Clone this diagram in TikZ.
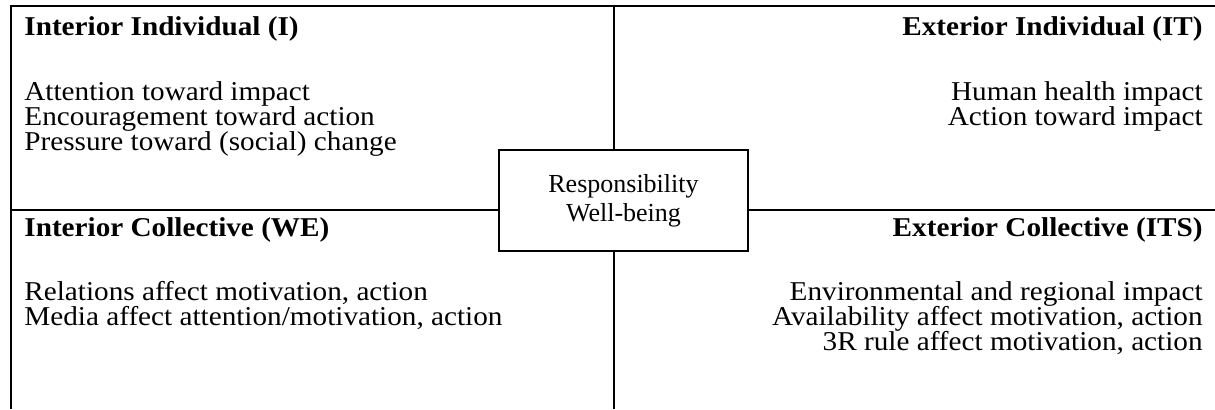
\documentclass[tikz,border=0pt]{standalone}
\usepackage{fontspec}
\setmainfont{Liberation Serif}
\newfontfamily\widefont[FakeStretch=1.074]{Liberation Serif}
\begin{document}
\begin{tikzpicture}[x=0.5pt,y=-0.5pt,
  lbl/.style={inner sep=0pt,font=\widefont\fontsize{13.6}{12.5}\selectfont},
  head/.style={inner sep=0pt,font=\widefont\fontsize{13.6}{12.5}\selectfont\bfseries},
  frame/.style={line width=1pt},
  centerbox/.style={draw,line width=1pt,minimum width=124.5pt,minimum height=50.5pt,inner sep=0pt,align=center,font=\fontsize{13}{14.5}\selectfont}]
\useasboundingbox (0,0) rectangle (1215,409);
\node[centerbox] (c) at (623.5,200.5) {Responsibility\\Well-being};
\coordinate (tl) at (11,6);
\coordinate (tr) at (1215,6);
\coordinate (bl) at (11,409);
\coordinate (ml) at (11,210);
\coordinate (mr) at (1215,210);
\coordinate (tm) at (614,6);
\coordinate (bm) at (614,409);
\draw[frame] (bl) -- (tl) -- (tr);
\draw[frame] (tm) -- (tm |- c.north);
\draw[frame] (bm) -- (bm |- c.south);
\draw[frame] (ml) -- (ml -| c.west);
\draw[frame] (mr) -- (mr -| c.east);
% top-left
\node[head,anchor=base west] (h1) at (24,35) {Interior Individual (I)};
\node[lbl,anchor=base west] (a1) at (24,100) {Attention toward impact};
\node[lbl,anchor=base west] (a2) at (24,125) {Encouragement toward action};
\node[lbl,anchor=base west] (a3) at (24,150) {Pressure toward (social) change};
% top-right
\node[head,anchor=base east] (h2) at (1203,35) {Exterior Individual (IT)};
\node[lbl,anchor=base east] (b1) at (1203,100) {Human health impact};
\node[lbl,anchor=base east] (b2) at (1203,125) {Action toward impact};
% bottom-left
\node[head,anchor=base west] (h3) at (24,236) {Interior Collective (WE)};
\node[lbl,anchor=base west] (d1) at (24,300) {Relations affect motivation, action};
\node[lbl,anchor=base west] (d2) at (24,325) {Media affect attention/motivation, action};
% bottom-right
\node[head,anchor=base east] (h4) at (1203,236) {Exterior Collective (ITS)};
\node[lbl,anchor=base east] (e1) at (1203,300) {Environmental and regional impact};
\node[lbl,anchor=base east] (e2) at (1203,325) {Availability affect motivation, action};
\node[lbl,anchor=base east] (e3) at (1203,350) {3R rule affect motivation, action};
\end{tikzpicture}
\end{document}
